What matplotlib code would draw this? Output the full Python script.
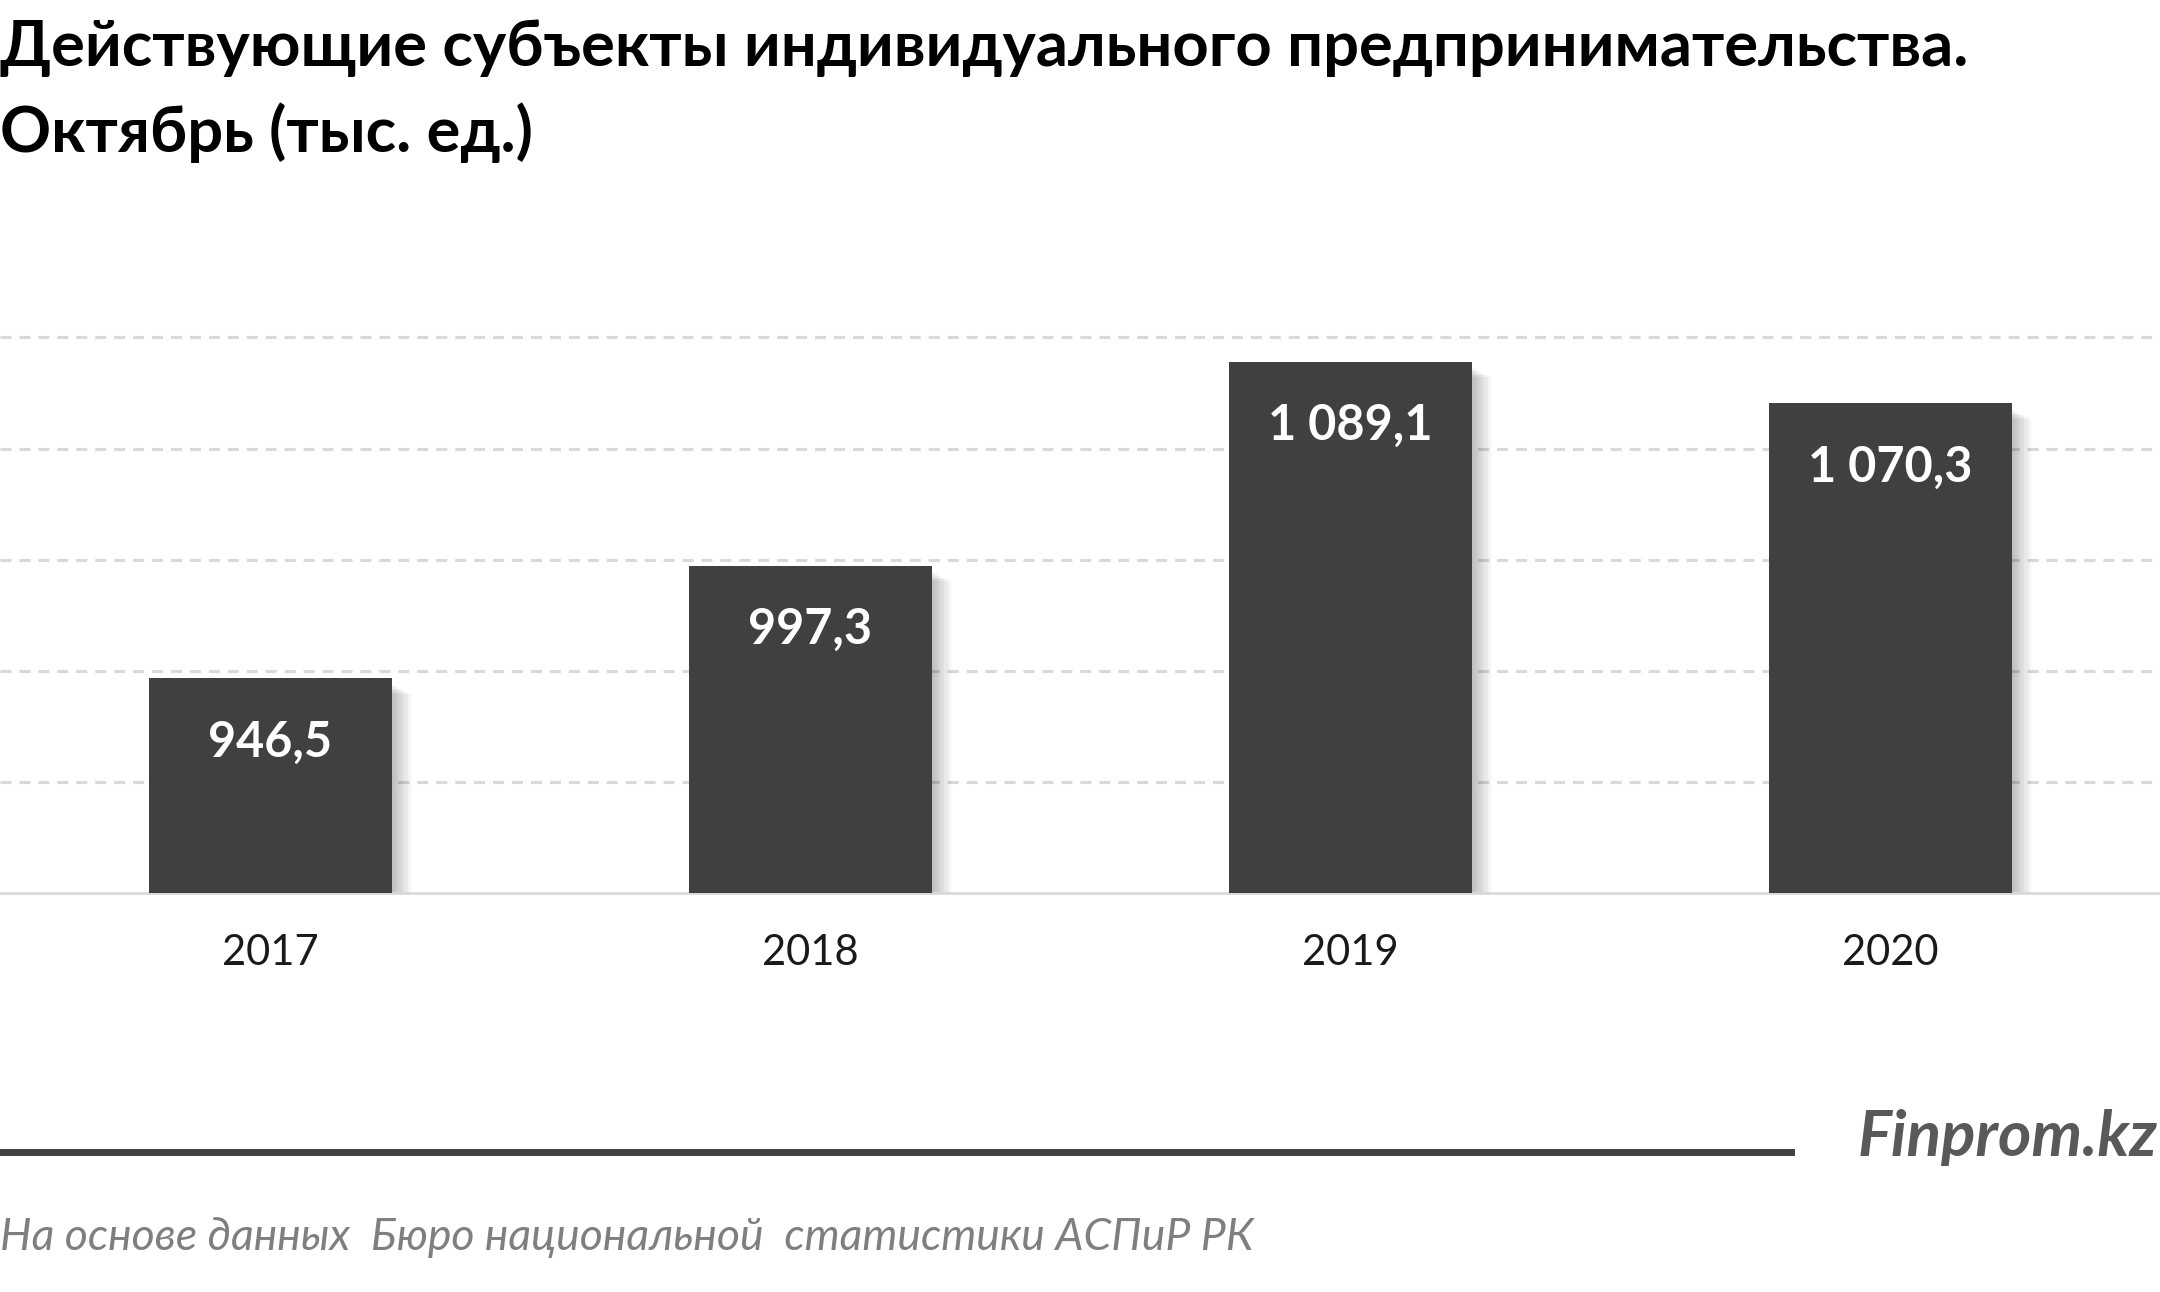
import matplotlib.pyplot as plt

# data
years = ['2017', '2018', '2019', '2020']
values = [946.5, 997.3, 1089.1, 1070.3]

title_1 = 'Действующие субъекты индивидуального предпринимательства.'
title_2 = 'Октябрь (тыс. ед.)'
source = 'На основе данных  Бюро национальной  статистики АСПиР РК'
brand = 'Finprom.kz'

bar_color = '#404040'
grid_color = '#d9d9d9'
base = 850


def fmt(v):
    s = '{:,.1f}'.format(v)
    return s.replace(',', ' ').replace('.', ',')


fig = plt.figure(figsize=(21.6, 12.92), dpi=100)
ax = fig.add_axes([0, 0.309, 1, 0.447])

x = list(range(len(years)))
w = 0.45

# soft shadow on the right of each bar
for k in range(6):
    ax.bar([i + 0.006 * (k + 1) for i in x], [v - base - 3 - k * 0.8 for v in values],
           width=w, bottom=base, color='black', alpha=0.045, zorder=2, linewidth=0)

ax.bar(x, [v - base for v in values], width=w, bottom=base, color=bar_color, zorder=3, linewidth=0)

for i, v in zip(x, values):
    ax.annotate(fmt(v), (i, v), xytext=(0, -46), textcoords='offset points',
                ha='center', va='center', color='white', fontsize=35,
                fontweight='bold', family='Lato', zorder=4)

ax.set_xlim(-0.5, 3.5)
ax.set_ylim(base, 1110)
ax.set_yticks([900, 950, 1000, 1050, 1100])
ax.yaxis.grid(True, color=grid_color, linewidth=2.2, dashes=(3.6, 2.6))
ax.set_axisbelow(True)
for s in ['top', 'right', 'left']:
    ax.spines[s].set_visible(False)
ax.spines['bottom'].set_color(grid_color)
ax.spines['bottom'].set_linewidth(2)
ax.tick_params(axis='y', length=0, labelleft=False)
ax.tick_params(axis='x', length=0, pad=30)
ax.set_xticks(x)
ax.set_xticklabels(years, fontsize=30, family='Lato', color='#1a1a1a')

fig.text(0.0, 0.949, title_1, fontsize=45.5, fontweight='bold', family='Lato', va='baseline')
fig.text(0.0, 0.882, title_2, fontsize=45.5, fontweight='bold', family='Lato', va='baseline')

fig.add_artist(plt.Line2D([0, 1791 / 2160], [1 - 1152 / 1292] * 2, color='#404040', linewidth=5))
fig.text(0.999, 1 - 1138 / 1292, brand, fontsize=46, fontweight='bold', style='italic',
         family='Lato', color='#595959', ha='right', va='center')
fig.text(0.0, 1 - 1237 / 1292, source, fontsize=32, style='italic', family='Lato',
         color='#7f7f7f', va='center')

fig.savefig('out.png', dpi=100)
